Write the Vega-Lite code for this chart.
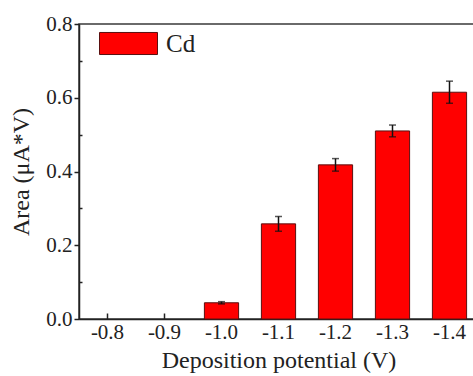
{
  "$schema": "https://vega.github.io/schema/vega-lite/v6.json",
  "autosize": {"type": "none"},
  "width": 399,
  "height": 295,
  "padding": {"left": 79, "top": 24, "right": 0, "bottom": 57},
  "background": "white",
  "config": {
    "view": {"stroke": "#3a3a3a", "strokeWidth": 1.5},
    "font": "Liberation Serif",
    "axis": {
      "labelFont": "Liberation Serif",
      "titleFont": "Liberation Serif",
      "labelColor": "#222",
      "titleColor": "#222",
      "titleFontWeight": "normal",
      "domainColor": "#222",
      "domainWidth": 1.5,
      "tickColor": "#222",
      "tickWidth": 1.5,
      "grid": false
    }
  },
  "data": {
    "values": [
      {"potential": "-0.8", "area": 0.0, "err": 0.0, "metal": "Cd"},
      {"potential": "-0.9", "area": 0.0, "err": 0.0, "metal": "Cd"},
      {"potential": "-1.0", "area": 0.044, "err": 0.003, "metal": "Cd"},
      {"potential": "-1.1", "area": 0.258, "err": 0.02, "metal": "Cd"},
      {"potential": "-1.2", "area": 0.418, "err": 0.017, "metal": "Cd"},
      {"potential": "-1.3", "area": 0.51, "err": 0.016, "metal": "Cd"},
      {"potential": "-1.4", "area": 0.615, "err": 0.03, "metal": "Cd"}
    ]
  },
  "transform": [{"filter": "datum.area > 0"}],
  "encoding": {
    "x": {
      "field": "potential",
      "type": "nominal",
      "sort": null,
      "scale": {
        "domain": ["-0.8", "-0.9", "-1.0", "-1.1", "-1.2", "-1.3", "-1.4"],
        "paddingInner": 0.4,
        "paddingOuter": 0.2
      },
      "axis": {
        "title": "Deposition potential (V)",
        "labelAngle": 0,
        "labelFontSize": 21,
        "titleFontSize": 24,
        "tickSize": -6,
        "labelPadding": 8,
        "titlePadding": 6
      }
    }
  },
  "layer": [
    {
      "mark": {"type": "bar", "fill": "#ff0000", "stroke": "#5a1010", "strokeWidth": 1},
      "encoding": {
        "y": {
          "field": "area",
          "type": "quantitative",
          "scale": {"domain": [0, 0.8], "nice": false},
          "axis": {
            "title": "Area (μA*V)",
            "values": [0, 0.2, 0.4, 0.6, 0.8],
            "format": ".1f",
            "labelFontSize": 21,
            "titleFontSize": 24,
            "tickSize": 5,
            "labelPadding": 2,
            "titlePadding": 12
          }
        },
        "color": {
          "field": "metal",
          "type": "nominal",
          "scale": {"range": ["#ff0000"]},
          "legend": {
            "title": null,
            "orient": "none",
            "legendX": 20,
            "legendY": -10,
            "symbolType": "M-1,-0.38H1V0.38H-1Z",
            "symbolSize": 3364,
            "symbolStrokeColor": "#5a1010",
            "symbolStrokeWidth": 1,
            "symbolOpacity": 1,
            "labelFont": "Liberation Serif",
            "labelFontSize": 25,
            "labelColor": "#222",
            "labelOffset": 8
          }
        }
      }
    },
    {
      "mark": {"type": "errorbar", "ticks": {"size": 7, "thickness": 1.5, "color": "#111"}, "rule": {"strokeWidth": 1.5, "color": "#111"}},
      "encoding": {
        "y": {
          "field": "area",
          "type": "quantitative",
          "scale": {"domain": [0, 0.8], "nice": false},
          "axis": {
            "orient": "left",
            "title": null,
            "values": [0.1, 0.3, 0.5, 0.7],
            "labels": false,
            "domain": false,
            "tickSize": -3
          }
        },
        "yError": {"field": "err"}
      }
    }
  ],
  "resolve": {"axis": {"y": "independent"}}
}
